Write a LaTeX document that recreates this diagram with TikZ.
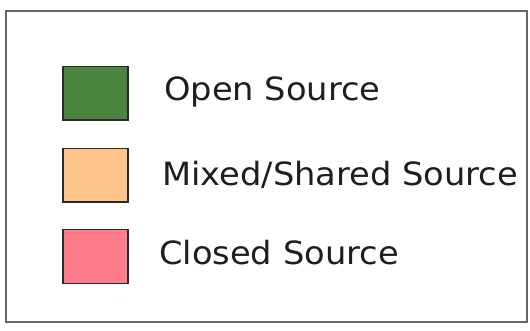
\documentclass[tikz,border=0pt]{standalone}
\usepackage{graphicx}
\usepackage{fontspec}
\setmainfont{DejaVu Sans}
\definecolor{opengreen}{HTML}{4A8540}
\definecolor{mixedorange}{HTML}{FFC48A}
\definecolor{closedpink}{HTML}{FF7C8A}
\definecolor{framegray}{HTML}{666666}
\definecolor{swatchedge}{HTML}{2A2A2A}
\definecolor{labelink}{HTML}{1E1E1E}
\newcommand{\widetext}[1]{\scalebox{1.053}[1]{#1}}
\begin{document}
\begin{tikzpicture}[x=1pt,y=-1pt,
  swatch/.style={draw=swatchedge,line width=1.6pt},
  label/.style={anchor=base west,inner sep=0pt,text=labelink,font=\fontsize{32}{38}\selectfont}]
  \useasboundingbox (0,0) rectangle (530,330);
  % legend frame
  \draw[framegray,line width=2pt] (5.5,11) rectangle (527,322);
  % colour swatches
  \draw[swatch,fill=opengreen] (63,66.5) rectangle (128,120);
  \draw[swatch,fill=mixedorange] (63,148.5) rectangle (128,202);
  \draw[swatch,fill=closedpink] (63,229.5) rectangle (128,283.5);
  % labels
  \node[label] (open) at (164,100) {\widetext{Open Source}};
  \node[label] (mixed) at (162,185) {\widetext{Mixed/Shared Source}};
  \node[label] (closed) at (159,264.5) {\widetext{Closed Source}};
\end{tikzpicture}
\end{document}
